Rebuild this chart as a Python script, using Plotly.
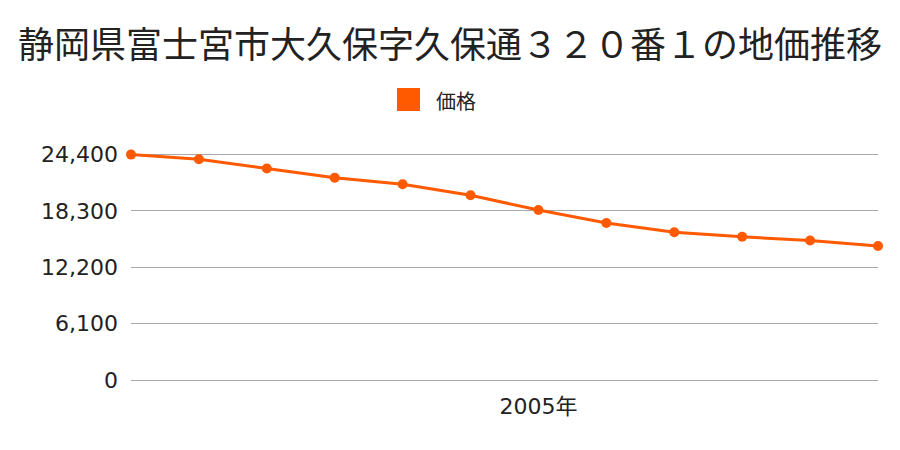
import plotly.graph_objects as go

years = [1999, 2000, 2001, 2002, 2003, 2004, 2005, 2006, 2007, 2008, 2009, 2010]
prices = [24400, 23900, 22900, 21900, 21200, 20000, 18400, 17000, 16000, 15500, 15100, 14500]
tick_vals = [0, 6100, 12200, 18300, 24400]
tick_text = ["0", "6,100", "12,200", "18,300", "24,400"]
x_tick_vals = [2005]
x_tick_text = ["2005年"]
series_name = "価格"

FONT = "Noto Sans CJK JP"
TICKFONT = "DejaVu Sans, Noto Sans CJK JP"
ORANGE = "#ff5a00"

fig = go.Figure()
fig.add_trace(go.Scatter(
    x=years, y=prices, mode="lines+markers", name=series_name,
    line=dict(color=ORANGE, width=3),
    marker=dict(color=ORANGE, size=10),
    cliponaxis=False, showlegend=False,
))

# legend: square swatch + label (paper coordinates)
fig.add_shape(type="rect", xref="paper", yref="paper",
              x0=(397 - 131) / 747, x1=(420 - 131) / 747,
              y0=(383 - 111) / 230, y1=(383 - 88) / 230,
              fillcolor=ORANGE, line=dict(width=0))
fig.add_annotation(text=series_name, xref="paper", yref="paper",
                   x=(434 - 131) / 747, xanchor="left",
                   y=(383 - 100) / 230, yanchor="middle",
                   showarrow=False, font=dict(size=20, family=FONT, color="#222"))

fig.update_layout(
    width=900, height=450,
    paper_bgcolor="white", plot_bgcolor="white",
    margin=dict(l=131, r=22, t=153, b=67),
    font=dict(family=FONT, color="#222"),
    title=dict(text="静岡県富士宮市大久保字久保通３２０番１の地価推移",
               x=0.5, xanchor="center", y=0.9, yanchor="middle",
               font=dict(size=36, family=FONT, color="#222")),
    showlegend=False,
    xaxis=dict(range=[1999, 2010], tickvals=x_tick_vals, ticktext=x_tick_text,
               showgrid=False, zeroline=False, showline=False,
               ticklabelstandoff=8,
               tickfont=dict(size=22, family=TICKFONT, color="#222"), ticks=""),
    yaxis=dict(range=[-325, 24575], tickvals=tick_vals, ticktext=tick_text,
               showgrid=True, gridcolor="#aaaaaa", gridwidth=1,
               zeroline=False, showline=False, ticks="",
               ticklabelstandoff=12,
               tickfont=dict(size=22, family=TICKFONT, color="#222")),
)

fig.write_html("out.html")
